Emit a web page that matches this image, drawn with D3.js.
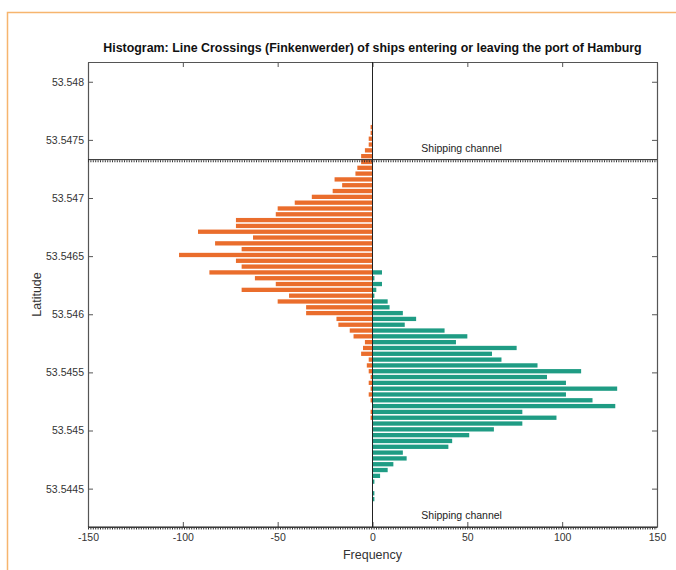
<!DOCTYPE html>
<html>
<head>
<meta charset="utf-8">
<script src="https://cdn.jsdelivr.net/npm/d3@7"></script>
<style>
  body { margin: 0; background: #fff; }
  svg { display: block; font-family: "Liberation Sans", Arial, sans-serif; }
</style>
</head>
<body>
<svg id="chart"></svg>
<script>
// bin centres (latitude), one per histogram row, top to bottom
const latCenters = [
  53.54761, 53.54756, 53.54751, 53.54746, 53.54741, 53.54736, 53.54731, 53.54726, 53.54721, 53.54716,
  53.54711, 53.54706, 53.54701, 53.54696, 53.54691, 53.54686, 53.54681, 53.54676, 53.54671, 53.54666,
  53.54661, 53.54656, 53.54651, 53.54646, 53.54641, 53.54636, 53.54631, 53.54626, 53.54621, 53.54616,
  53.54611, 53.54606, 53.54601, 53.54596, 53.54591, 53.54586, 53.54581, 53.54576, 53.54571, 53.54566,
  53.54561, 53.54556, 53.54551, 53.54546, 53.54541, 53.54536, 53.54531, 53.54526, 53.54521, 53.54516,
  53.54511, 53.54506, 53.54501, 53.54496, 53.54491, 53.54486, 53.54481, 53.54476, 53.54471, 53.54466,
  53.54461, 53.54456, 53.54451, 53.54446, 53.54441
];
const binWidth = 0.00005;

// ships crossing in one direction (drawn to the left)
const orangeCounts = [
  -1, -1, -2, -2, -4, -6, -6, -8, -9, -20,
  -16, -21, -32, -41, -50, -51, -72, -72, -92, -63,
  -83, -69, -102, -72, -69, -86, -62, -51, -69, -44,
  -50, -35, -35, -19, -18, -12, -10, -4, -5, -6,
  -2, -3, -2, -1, -2, -1, -2, -1, 0, -1,
  -1, 0, 0, 0, 0, 0, 0, 0, 0, 0,
  0, 0, 0, 0, 0
];
// ships crossing in the other direction (drawn to the right)
const tealCounts = [
  0, 0, 0, 0, 0, 0, 0, 0, 0, 0,
  0, 0, 0, 0, 0, 0, 0, 0, 0, 0,
  0, 0, 0, 0, 0, 5, 1, 5, 2, 1,
  8, 9, 16, 23, 17, 38, 50, 44, 76, 63,
  68, 87, 110, 92, 102, 129, 102, 116, 128, 79,
  97, 79, 64, 51, 42, 40, 16, 18, 11, 8,
  4, 1, 0, 1, 1
];

const xTicks = [-150, -100, -50, 0, 50, 100, 150];
const yTicks = [53.5445, 53.545, 53.5455, 53.546, 53.5465, 53.547, 53.5475, 53.548];
const channelLats = [53.54733, 53.54417];
const channelLabel = 'Shipping channel';

const width = 676;
const height = 570;
const margin = { top: 62, right: 19, bottom: 43, left: 88 };

const svg = d3.select('#chart').attr('width', width).attr('height', height);

// figure frame (only top/left edges visible in the picture)
svg.append('path')
  .attr('d', `M${width},12.5H7.5V${height}`)
  .attr('fill', 'none')
  .attr('stroke', '#f6b56e')
  .attr('stroke-width', 1.5);

const x = d3.scaleLinear()
  .domain([-150, 150])
  .range([margin.left, width - margin.right]);

const y = d3.scaleLinear()
  .domain([53.54417, 53.54817])
  .range([height - margin.bottom, margin.top]);

const rows = latCenters.map((lat, i) => ({ lat, left: orangeCounts[i], right: tealCounts[i] }));
const half = binWidth * 0.37;

svg.append('g').selectAll('rect')
  .data(rows.filter(d => d.left !== 0))
  .enter().append('rect')
  .attr('x', d => x(d.left))
  .attr('y', d => y(d.lat + half))
  .attr('width', d => x(0) - x(d.left))
  .attr('height', d => y(d.lat - half) - y(d.lat + half))
  .attr('fill', '#ea6d2c');

svg.append('g').selectAll('rect')
  .data(rows.filter(d => d.right !== 0))
  .enter().append('rect')
  .attr('x', x(0))
  .attr('y', d => y(d.lat + half))
  .attr('width', d => x(d.right) - x(0))
  .attr('height', d => y(d.lat - half) - y(d.lat + half))
  .attr('fill', '#1f9c84');

// axes, ticks pointing inward
const axisColor = '#555';
const labelColor = '#333';

const gx = svg.append('g')
  .attr('transform', `translate(0,${height - margin.bottom})`)
  .call(d3.axisBottom(x).tickValues(xTicks).tickSizeInner(-5).tickSizeOuter(0).tickPadding(7)
    .tickFormat(d => String(d)));

const gy = svg.append('g')
  .attr('transform', `translate(${margin.left},0)`)
  .call(d3.axisLeft(y).tickValues(yTicks).tickSizeInner(-5).tickSizeOuter(0).tickPadding(4)
    .tickFormat(d => String(+d.toFixed(4))));

const gxTop = svg.append('g')
  .attr('transform', `translate(0,${margin.top})`)
  .call(d3.axisTop(x).tickValues(xTicks).tickSizeInner(-5).tickSizeOuter(0).tickFormat(''));

const gyRight = svg.append('g')
  .attr('transform', `translate(${width - margin.right},0)`)
  .call(d3.axisRight(y).tickValues(yTicks).tickSizeInner(-5).tickSizeOuter(0).tickFormat(''));

[gx, gy, gxTop, gyRight].forEach(g => {
  g.selectAll('path, line').attr('stroke', axisColor);
  g.selectAll('text').attr('fill', labelColor).style('font-size', '10.5px');
  g.select('.domain').attr('stroke-width', 1.2);
});

// zero line
svg.append('line')
  .attr('x1', x(0)).attr('x2', x(0))
  .attr('y1', margin.top).attr('y2', height - margin.bottom)
  .attr('stroke', '#222')
  .attr('stroke-width', 1);

// shipping channel boundaries
channelLats.forEach(lat => {
  svg.append('line')
    .attr('x1', margin.left).attr('x2', width - margin.right)
    .attr('y1', y(lat)).attr('y2', y(lat))
    .attr('stroke', '#222')
    .attr('stroke-width', 1);
  svg.append('line')
    .attr('x1', margin.left).attr('x2', width - margin.right)
    .attr('y1', y(lat) + 1.5).attr('y2', y(lat) + 1.5)
    .attr('stroke', '#333')
    .attr('stroke-width', 2)
    .attr('stroke-dasharray', '1,1.4');
  svg.append('text')
    .attr('x', x(47))
    .attr('y', y(lat) - 8)
    .attr('text-anchor', 'middle')
    .style('font-size', '10.5px')
    .attr('fill', '#222')
    .text(channelLabel);
});

svg.append('text')
  .attr('x', (margin.left + width - margin.right) / 2)
  .attr('y', 52)
  .attr('text-anchor', 'middle')
  .style('font-size', '12.4px')
  .style('font-weight', 'bold')
  .attr('fill', '#111')
  .text('Histogram: Line Crossings (Finkenwerder) of ships entering or leaving the port of Hamburg');

svg.append('text')
  .attr('x', x(0))
  .attr('y', 559)
  .attr('text-anchor', 'middle')
  .style('font-size', '12.5px')
  .attr('fill', '#333')
  .text('Frequency');

svg.append('text')
  .attr('transform', `translate(41,${(margin.top + height - margin.bottom) / 2}) rotate(-90)`)
  .attr('text-anchor', 'middle')
  .style('font-size', '12.5px')
  .attr('fill', '#333')
  .text('Latitude');
</script>
</body>
</html>
